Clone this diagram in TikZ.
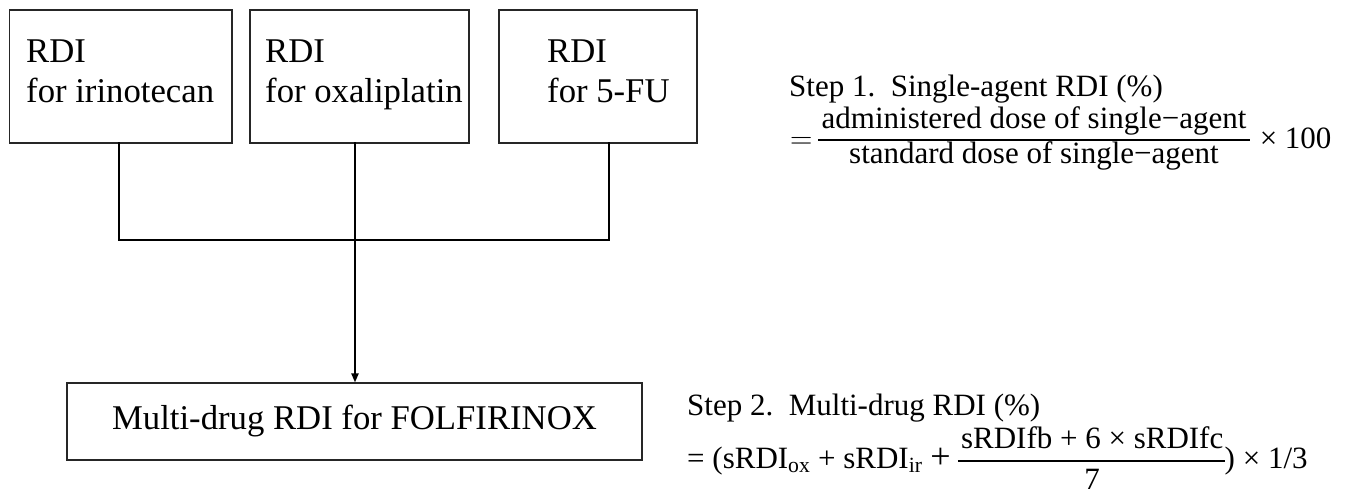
\documentclass[tikz,border=0pt]{standalone}
\usepackage{fix-cm}
\usepackage{fontspec}
\setmainfont{Liberation Serif}
\usetikzlibrary{arrows.meta,calc}
\begin{document}
\begin{tikzpicture}[x=1pt,y=-1pt,
  box/.style={draw=black!85, line width=1.1pt, inner sep=0pt},
  btxt/.style={anchor=base west, inner sep=0pt, font=\fontsize{34.7}{41}\selectfont},
  conn/.style={line width=2.4pt, line cap=rect},
  txt/.style={anchor=base west, inner sep=0pt, font=\fontsize{31}{38}\selectfont},
  fracbar/.style={line width=1.4pt}]
\path[use as bounding box] (0,0) rectangle (1349,488);
% top boxes
\node[box, minimum width=222.5pt, minimum height=133pt] (b1) at (120.75,76.5) {};
\node[box, minimum width=219pt, minimum height=133pt] (b2) at (359.5,76.5) {};
\node[box, minimum width=198pt, minimum height=133pt] (b3) at (598,76.5) {};
\node[btxt] (t1a) at (26,62) {RDI};
\node[btxt] (t1b) at (26,102) {for irinotecan};
\node[btxt] (t2a) at (265,62) {RDI};
\node[btxt] (t2b) at (265,102) {for oxaliplatin};
\node[btxt] (t3a) at (547,62) {RDI};
\node[btxt] (t3b) at (547,102) {for 5-FU};
% bottom box
\node[box, minimum width=575pt, minimum height=77pt, font=\fontsize{34.7}{41}\selectfont] (bot) at (354.5,421.5) {Multi-drug RDI for FOLFIRINOX};
% connectors
\coordinate (j1) at (119,240);
\coordinate (j2) at (355,240);
\coordinate (j3) at (609,240);
\draw[conn] (b1.south -| j1) -- (j1) -- (j3) -- (b3.south -| j3);
\draw[conn] (b2.south -| j2) -- (j2);
\draw[line width=2pt, -{Triangle[length=9pt,width=7pt]}] (j2) -- (j2 |- bot.north);
% step 1
\node[txt] (s1a) at (789,96) {Step 1.\ \ Single-agent RDI (\%)};
\node[txt] (s1eq) at (790,148) {$=$};
\node[txt, anchor=base] (s1num) at (1034,128) {administered dose of single−agent};
\node[txt, anchor=base] (s1den) at (1034,163) {standard dose of single−agent};
\coordinate (bar1y) at (0,140);
\draw[fracbar] ($(s1num.west |- bar1y)+(-3,0)$) -- ($(s1num.east |- bar1y)+(3,0)$);
\node[txt] (s1x) at ($(s1num.east |- bar1y)+(13,8)$) {× 100};
% step 2
\node[txt] (s2a) at (687,415) {Step 2.\ \ Multi-drug RDI (\%)};
\node[txt] (s2pre) at (687,468) {= (sRDI\textsubscript{ox} + sRDI\textsubscript{ir} \fontsize{36}{40}\selectfont +};
\node[txt] (s2num) at ($(s2pre.base east)+(10,-20)$) {sRDIfb + 6 × sRDIfc};
\node[txt, anchor=base] (s2den) at ($(s2num.base)+(0,41)$) {7};
\coordinate (bar2l) at ($(s2num.west |- s2pre.base)+(-3,-7)$);
\coordinate (bar2r) at ($(s2num.east |- s2pre.base)+(1,-7)$);
\draw[fracbar] (bar2l) -- (bar2r);
\node[txt] (s2post) at ($(bar2r)+(0,7)$) {) × 1/3};
\end{tikzpicture}
\end{document}
